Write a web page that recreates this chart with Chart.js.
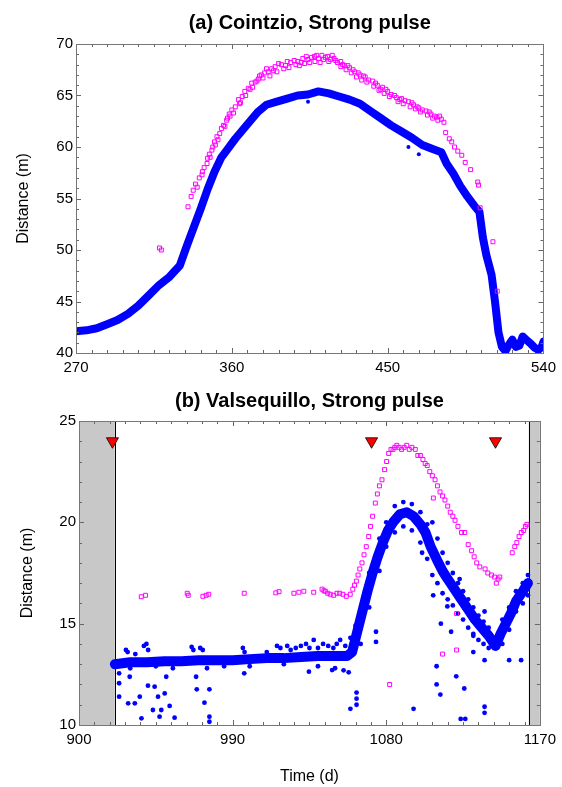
<!DOCTYPE html>
<html>
<head>
<meta charset="utf-8">
<script src="https://cdn.jsdelivr.net/npm/chart.js@4.4.1/dist/chart.umd.min.js"></script>
<style>
  body { margin: 0; background: #fff; }
  .panel { position: absolute; left: 0; width: 562px; }
</style>
</head>
<body>
<div class="panel" style="top:0;height:380px"><canvas id="chartA"></canvas></div>
<div class="panel" style="top:380px;height:407px"><canvas id="chartB"></canvas></div>
<script>
// ---- (a) Cointzio ----
const timeA = [270, 276, 282, 288, 294, 300, 306, 312, 318, 324, 330, 334, 338, 342, 346, 350, 354, 358, 362, 366,
  370, 375, 380, 386, 392, 398, 404, 410, 416, 422, 428, 434, 440, 446, 452, 458, 464, 470, 476, 481,
  484, 488, 492, 496, 500, 503, 505, 507, 510, 512, 514, 516, 518, 520, 522, 524, 526, 528, 530, 532,
  535, 537, 539, 540];
const blueA = [42.1, 42.2, 42.4, 42.8, 43.2, 43.8, 44.6, 45.6, 46.6, 47.4, 48.5, 50.4, 52.2, 54.0, 55.9, 57.6, 59.0, 59.9, 60.8, 61.6,
  62.4, 63.4, 64.1, 64.4, 64.7, 65.0, 65.1, 65.4, 65.2, 64.9, 64.6, 64.2, 63.5, 62.8, 62.1, 61.5, 60.9, 60.2, 59.8, 59.5,
  58.4, 57.4, 56.2, 55.2, 54.3, 53.7, 51.2, 49.5, 47.6, 45.0, 42.0, 40.6, 40.2, 40.8, 41.3, 40.6, 40.7, 41.6, 41.3, 41.0,
  40.5, 40.3, 40.6, 41.1];
const blueOutTimeA = [404, 462, 468];
const blueOutA = [64.4, 60.0, 59.3];

const pinkTimeA = [318.2, 319.3, 334.7, 336.5, 337.7, 339, 340, 341.2, 342.8, 344, 345.7, 347, 348.5, 350, 351.4, 353, 355.2, 357, 358.5, 360,
  362, 363.8, 366, 367.5, 369.5, 371.5, 373.5, 375.3, 377, 379, 381, 383, 385, 388.6, 391, 394, 396, 398.1, 401, 404,
  406, 407.7, 410, 412, 414, 415.3, 417, 419, 421, 422.9, 425, 428, 431, 434, 437, 441.4, 444, 447, 450, 452,
  455, 458, 462, 465, 468, 472.2, 475, 478.4, 480, 482.5, 483.5, 485.6, 487, 488.6, 490.5, 492.8, 494.8, 497.9, 502, 502.5,
  503.4, 510.8, 513.3,
  346, 349, 352, 356, 361, 364.5, 368, 372, 376, 380, 384, 387, 392, 397, 400, 403, 409, 413, 418, 420,
  424, 427, 430, 433, 436, 439, 443, 446, 449, 454, 457, 460, 464, 467, 470, 474, 477, 481,
  343, 347.5, 350.5, 354, 357.5, 359, 365, 370.5, 374.5, 378, 382, 386, 390, 393, 399, 402, 405, 408, 411, 416,
  423, 426, 429, 432, 435, 438, 442, 445, 448, 451, 456, 459, 463, 466, 469, 473, 476, 479];
const pinkA = [50.2, 50.0, 54.2, 55.2, 55.8, 56.4, 56.1, 57.0, 57.3, 58.0, 58.4, 59.3, 59.7, 60.5, 61.0, 61.3, 62.1, 62.6, 63.2, 63.6,
  63.9, 64.6, 64.9, 65.4, 65.7, 66.2, 66.3, 66.6, 67.0, 67.2, 67.3, 67.6, 67.8, 68.0, 67.9, 68.2, 68.4, 68.3, 68.6, 68.5,
  68.7, 68.8, 68.6, 68.9, 68.7, 68.8, 68.5, 68.6, 68.2, 68.3, 67.9, 67.7, 67.3, 67.0, 66.8, 66.4, 66.0, 65.8, 65.4, 65.1,
  64.8, 64.7, 64.4, 64.1, 63.8, 63.5, 63.2, 62.9, 63.0, 62.4, 61.4, 60.8, 60.5, 60.0, 59.6, 59.2, 58.5, 57.8, 56.6, 56.3,
  54.1, 50.8, 46.0,
  58.9, 60.0, 60.7, 62.0, 63.3, 64.2, 65.0, 65.8, 66.9, 67.6, 67.4, 68.1, 68.3, 68.0, 68.2, 68.8, 68.9, 68.5, 68.9, 68.4,
  68.0, 67.9, 67.5, 67.2, 66.9, 66.5, 66.2, 65.6, 65.6, 65.0, 64.6, 64.5, 64.3, 63.9, 63.6, 63.4, 63.0, 62.7,
  57.6, 59.0, 60.2, 61.8, 62.8, 63.0, 64.3, 65.6, 66.4, 66.7, 66.9, 67.3, 67.6, 67.7, 67.9, 68.1, 68.2, 68.3, 68.2, 68.3,
  67.8, 67.5, 67.2, 66.8, 66.5, 66.3, 65.9, 65.5, 65.2, 64.9, 64.4, 64.2, 63.9, 63.7, 63.4, 63.1, 62.8, 62.6];

// ---- (b) Valsequillo ----
const timeB = [921, 930, 940, 950, 960, 970, 980, 990, 1000, 1010, 1020, 1030, 1040, 1050, 1057, 1060, 1063, 1066, 1069, 1072,
  1075, 1078, 1081, 1084, 1088, 1092, 1096, 1100, 1103, 1106, 1110, 1113, 1116, 1120, 1124, 1128, 1132, 1136, 1140, 1144,
  1147, 1150, 1153, 1156, 1160, 1163];
const blueB = [13.0, 13.1, 13.1, 13.15, 13.15, 13.2, 13.2, 13.2, 13.25, 13.3, 13.3, 13.35, 13.4, 13.4, 13.4, 13.6, 14.6, 15.6, 16.6, 17.5,
  18.3, 19.0, 19.6, 20.0, 20.4, 20.5, 20.3, 19.9, 19.5, 18.8, 18.1, 17.6, 17.2, 16.7, 16.2, 15.7, 15.2, 14.8, 14.4, 13.9,
  14.5, 15.0, 15.5, 16.1, 16.6, 17.0];
const noiseTimeB = [927.5, 928.5, 933, 938, 939.5, 940.5, 966, 967, 971, 972.5, 996, 997, 1010, 1016, 1018, 1022, 1024, 1027, 1030, 1033,
  1035, 1037.5, 1040, 1043, 1046, 1049, 1051, 1053, 1056, 1059, 1062,
  930, 945, 955, 975, 985, 1000, 1020, 1040, 1050, 1055, 1058,
  923.5, 923.5, 923.5, 928.8, 929.7, 932.7, 935.6, 936.6, 940.4, 943.3, 944.3, 946.3, 947.2, 948.2, 950.2, 951.1, 953.1, 956, 968.6, 969,
  973.5, 976.4, 976.4, 976.4, 996.8, 1034.7, 1048.3,
  1059, 1062.6, 1062.6, 1062.6, 1074, 1074, 1096, 1101, 1107.5, 1112, 1109.5, 1109.5, 1111.7, 1115.8, 1118, 1121, 1123.6, 1126.3, 1125.7, 1131,
  1131, 1137.6, 1137.6, 1137.6, 1137.6, 1152, 1159, 1123,
  1065, 1065, 1070, 1070, 1076, 1076, 1080, 1080, 1085, 1085, 1090, 1090, 1095, 1095, 1100, 1100, 1104, 1104, 1107, 1107,
  1110, 1110, 1113, 1113, 1116, 1116, 1119, 1119, 1122, 1122, 1125, 1125, 1128, 1128, 1131, 1131, 1134, 1134, 1137, 1137,
  1140, 1140, 1148, 1148, 1152, 1152, 1156, 1156, 1160, 1160, 1163, 1163];
const noiseB = [13.7, 13.6, 13.5, 13.9, 14.0, 13.7, 13.85, 13.7, 13.8, 13.7, 13.8, 13.6, 13.6, 13.9, 13.8, 13.9, 13.7, 13.8, 13.9, 14.0,
  13.8, 14.2, 13.8, 14.0, 13.9, 13.8, 14.0, 14.2, 13.9, 14.3, 14.9,
  12.8, 12.9, 12.8, 12.8, 12.9, 12.9, 13.0, 12.9, 12.8, 12.7, 12.6,
  12.55, 12.06, 11.4, 11.07, 12.38, 11.07, 11.4, 10.33, 11.94, 10.74, 11.89, 11.4, 10.41, 10.74, 11.56, 12.38, 10.94, 10.36, 12.38, 11.76,
  11.1, 11.76, 10.41, 10.16, 12.55, 12.63, 12.71,
  10.8, 11.6, 11.3, 11.0, 14.6, 14.1, 10.8, 18.5, 16.4, 15.0, 12.9, 12.0, 11.5, 15.85, 14.6, 12.4, 10.3, 10.3, 11.8, 14.4,
  13.6, 15.6, 13.2, 10.9, 10.6, 13.2, 13.2, 17.2,
  15.5, 14.0, 17.5, 15.8, 19.2, 17.6, 20.0, 18.8, 20.8, 19.5, 21.0, 19.8, 20.9, 19.6, 20.5, 19.0, 19.9, 18.2, 20.0, 17.4,
  19.2, 17.0, 18.5, 16.5, 18.0, 16.2, 17.5, 15.9, 17.0, 15.5, 16.6, 15.2, 16.2, 14.8, 15.8, 14.5, 15.4, 14.2, 15.1, 14.0,
  14.8, 13.8, 15.2, 14.0, 15.8, 14.7, 16.6, 15.6, 17.0, 16.0, 17.4, 16.4];

const pinkTimeB = [936.5, 939, 963.4, 964, 972.6, 974.5, 976, 996.8, 1015.3, 1017.2, 1025.9, 1028.8, 1031.7, 1037.5, 1042.4, 1043.5, 1044.3, 1045.7, 1047.2, 1049.2,
  1051.1, 1052.7, 1054.6, 1056.6, 1058.9, 1060.4, 1061.4,
  1062.5, 1063.5, 1064.5, 1065.8, 1067, 1068.3, 1069.7, 1070.8, 1072, 1073.6, 1074.8, 1076, 1077.5, 1079, 1080.2, 1081.4, 1082.8, 1084, 1085, 1086.2,
  1087.5, 1089, 1090.5, 1092, 1093.5, 1095, 1097, 1098.5, 1100, 1101.5, 1102.8, 1104, 1105.5, 1107, 1108.6, 1110, 1111.5, 1113, 1114.4, 1116,
  1117.5, 1119, 1120.3, 1122, 1124.1, 1126, 1128, 1130, 1131.5, 1133, 1134.8, 1137.9, 1139.5, 1141.6, 1143.5, 1145.5, 1144.5, 1146.5,
  1153.8, 1155.3, 1156.5, 1157.8, 1159.1, 1160.5, 1161.5, 1162.4,
  1082, 1107.6, 1121.2, 1113, 1121.2];
const pinkB = [16.33, 16.4, 16.5, 16.4, 16.35, 16.4, 16.45, 16.5, 16.52, 16.58, 16.5, 16.55, 16.6, 16.55, 16.7, 16.62, 16.6, 16.5, 16.45, 16.4,
  16.5, 16.5, 16.45, 16.35, 16.45, 16.7, 16.9,
  17.1, 17.4, 17.7, 18.0, 18.4, 18.8, 19.3, 19.8, 20.3, 20.95, 21.4, 21.8, 22.1, 22.6, 23.0, 23.4, 23.6, 23.6, 23.7, 23.8,
  23.7, 23.6, 23.7, 23.8, 23.6, 23.7, 23.6, 23.3, 23.3, 23.1, 22.9, 22.8, 22.5, 22.3, 22.1, 21.8, 21.5, 21.3, 21.1, 20.8,
  20.5, 20.3, 20.1, 19.8, 19.5, 19.5, 18.9, 18.6, 18.3, 18.0, 17.8, 17.7, 17.5, 17.4, 17.3, 17.2, 17.0, 17.3,
  18.5, 18.8, 19.0, 19.3, 19.5, 19.6, 19.8, 19.9,
  12.0, 21.2, 15.5, 13.5, 13.7];

const markTimeB = [919.6, 1071.4, 1144];
const markB = [24, 24, 24];
const blankTimes = [[900, 921], [1163.5, 1170]];

const FONT = '"Liberation Sans", Arial, sans-serif';
const BLUE = '#0000ff';
const PINK = '#ff00ff';

function pts(xs, ys) {
  return xs.map((x, i) => ({x: x, y: ys[i]}));
}

// frame, inward ticks, grey blank bands and panel titles
const framePlugin = {
  id: 'frame',
  beforeDatasetsDraw(chart, args, o) {
    const {ctx, chartArea: a, scales: {x}} = chart;
    ctx.save();
    (o.bands || []).forEach(b => {
      const x0 = x.getPixelForValue(b[0]), x1 = x.getPixelForValue(b[1]);
      ctx.fillStyle = '#c8c8c8';
      ctx.fillRect(x0, a.top, x1 - x0, a.bottom - a.top);
    });
    ctx.strokeStyle = '#000';
    ctx.lineWidth = 1;
    (o.edges || []).forEach(v => {
      const px = Math.round(x.getPixelForValue(v)) + 0.5;
      ctx.beginPath(); ctx.moveTo(px, a.top); ctx.lineTo(px, a.bottom); ctx.stroke();
    });
    ctx.restore();
  },
  afterDatasetsDraw(chart, args, o) {
    const {ctx, chartArea: a, scales: {x, y}} = chart;
    ctx.save();
    ctx.strokeStyle = '#666';
    ctx.lineWidth = 1;
    ctx.beginPath();
    for (let v = x.min; v <= x.max + 1e-6; v += o.xMinor) {
      const px = Math.round(x.getPixelForValue(v)) + 0.5;
      const len = Math.abs((v - x.min) % o.xMajor) < 1e-6 ? 5 : 3;
      ctx.moveTo(px, a.bottom); ctx.lineTo(px, a.bottom - len);
      ctx.moveTo(px, a.top); ctx.lineTo(px, a.top + len);
    }
    for (let v = y.min; v <= y.max + 1e-6; v += o.yMinor) {
      const py = Math.round(y.getPixelForValue(v)) + 0.5;
      const len = Math.abs((v - y.min) % o.yMajor) < 1e-6 ? 5 : 3;
      ctx.moveTo(a.left, py); ctx.lineTo(a.left + len, py);
      ctx.moveTo(a.right, py); ctx.lineTo(a.right - len, py);
    }
    ctx.stroke();
    ctx.strokeStyle = '#777';
    ctx.strokeRect(Math.round(a.left) + 0.5, Math.round(a.top) + 0.5,
      Math.round(a.right - a.left), Math.round(a.bottom - a.top));
    ctx.fillStyle = '#000';
    ctx.font = 'bold 20px ' + FONT;
    ctx.textAlign = 'center';
    ctx.textBaseline = 'middle';
    ctx.fillText(o.title, (a.left + a.right) / 2, o.titleY);
    ctx.restore();
  }
};

function axes(xr, yr, yWidth, xHeight, yTitlePad, xTitle) {
  return {
    x: {
      type: 'linear', min: xr[0], max: xr[1],
      afterFit: s => { s.height = xHeight; },
      grid: {display: false, drawTicks: false},
      border: {display: false},
      ticks: {stepSize: 90, padding: 6, color: '#000', font: {family: FONT, size: 15}, maxRotation: 0,
        callback: v => String(v)},
      title: xTitle ? {display: true, text: xTitle, color: '#000', font: {family: FONT, size: 16}, padding: {top: 0, bottom: 1}} : {display: false}
    },
    y: {
      type: 'linear', min: yr[0], max: yr[1],
      afterFit: s => { s.width = yWidth; },
      grid: {display: false, drawTicks: false},
      border: {display: false},
      ticks: {stepSize: 5, padding: 3, color: '#000', font: {family: FONT, size: 15}, callback: v => String(v)},
      title: {display: true, text: 'Distance (m)', color: '#000', font: {family: FONT, size: 16}, padding: {top: yTitlePad, bottom: 0}}
    }
  };
}

new Chart(document.getElementById('chartA'), {
  type: 'scatter',
  data: {
    datasets: [
      {data: pts(pinkTimeA, pinkA), pointStyle: 'rect', pointRadius: 2.8, borderColor: PINK, borderWidth: 1,
        backgroundColor: 'rgba(0,0,0,0)', order: 1},
      {data: pts(blueOutTimeA, blueOutA), pointRadius: 2, backgroundColor: BLUE, borderWidth: 0, order: 2},
      {data: pts(timeA, blueA), showLine: true, pointRadius: 0, borderColor: BLUE, borderWidth: 8,
        borderJoinStyle: 'round', borderCapStyle: 'round', order: 3}
    ]
  },
  options: {
    responsive: true,
    maintainAspectRatio: false,
    animation: false,
    layout: {padding: {top: 44, right: 14, left: 0, bottom: 0}},
    plugins: {
      legend: {display: false},
      tooltip: {enabled: false},
      frame: {title: '(a) Cointzio, Strong pulse', titleY: 23, xMinor: 9, xMajor: 90, yMinor: 1, yMajor: 5}
    },
    scales: axes([270, 540], [40, 70], 76, 27, 14, null)
  },
  plugins: [framePlugin]
});

new Chart(document.getElementById('chartB'), {
  type: 'scatter',
  data: {
    datasets: [
      {data: pts(markTimeB, markB), pointStyle: 'triangle', rotation: 180, pointRadius: 7,
        backgroundColor: '#ff0000', borderColor: '#000', borderWidth: 0.8, order: 0},
      {data: pts(pinkTimeB, pinkB), pointStyle: 'rect', pointRadius: 2.8, borderColor: PINK, borderWidth: 1,
        backgroundColor: 'rgba(0,0,0,0)', order: 1},
      {data: pts(noiseTimeB, noiseB), pointRadius: 2.4, backgroundColor: BLUE, borderWidth: 0, order: 2},
      {data: pts(timeB, blueB), showLine: true, pointRadius: 0, borderColor: BLUE, borderWidth: 10,
        borderJoinStyle: 'round', borderCapStyle: 'round', order: 3}
    ]
  },
  options: {
    responsive: true,
    maintainAspectRatio: false,
    animation: false,
    layout: {padding: {top: 41, right: 20, left: 0, bottom: 0}},
    plugins: {
      legend: {display: false},
      tooltip: {enabled: false},
      frame: {title: '(b) Valsequillo, Strong pulse', titleY: 21, xMinor: 9, xMajor: 90, yMinor: 1, yMajor: 5,
        bands: blankTimes, edges: [921, 1163.5]}
    },
    scales: axes([900, 1170], [10, 25], 79, 62, 18, 'Time (d)')
  },
  plugins: [framePlugin]
});
</script>
</body>
</html>
